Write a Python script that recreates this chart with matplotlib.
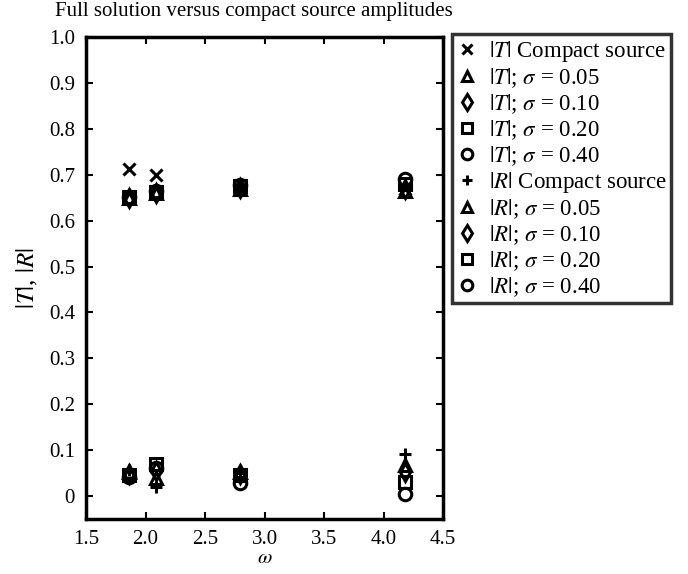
import numpy as np
import matplotlib
matplotlib.use("Agg")
import matplotlib.pyplot as plt

plt.rcParams['font.family'] = ['Liberation Serif', 'DejaVu Serif']
plt.rcParams['mathtext.fontset'] = 'stix'

# frequencies
omega = [1.86, 2.09, 2.79, 4.18]

# transmission |T|
T_compact = [0.712, 0.700, 0.670, 0.670]
T_s005 = [0.650, 0.660, 0.668, 0.664]
T_s010 = [0.650, 0.660, 0.672, 0.670]
T_s020 = [0.652, 0.662, 0.676, 0.680]
T_s040 = [0.652, 0.664, 0.678, 0.690]

# reflection |R|
R_compact = [0.057, 0.020, 0.050, 0.092]
R_s005 = [0.052, 0.040, 0.052, 0.068]
R_s010 = [0.048, 0.055, 0.048, 0.052]
R_s020 = [0.045, 0.070, 0.045, 0.030]
R_s040 = [0.042, 0.062, 0.028, 0.005]

series = [
    (T_compact, 'x', r'$|T|$ Compact source'),
    (T_s005, '^', r'$|T|$; $\sigma$ = 0.05'),
    (T_s010, 'd', r'$|T|$; $\sigma$ = 0.10'),
    (T_s020, 's', r'$|T|$; $\sigma$ = 0.20'),
    (T_s040, 'o', r'$|T|$; $\sigma$ = 0.40'),
    (R_compact, '+', r'$|R|$ Compact source'),
    (R_s005, '^', r'$|R|$; $\sigma$ = 0.05'),
    (R_s010, 'd', r'$|R|$; $\sigma$ = 0.10'),
    (R_s020, 's', r'$|R|$; $\sigma$ = 0.20'),
    (R_s040, 'o', r'$|R|$; $\sigma$ = 0.40'),
]

fig = plt.figure(figsize=(6.88, 5.74), dpi=100)
ax = fig.add_axes([0.125, 0.0958, 0.519, 0.8397])

for vals, m, lab in series:
    ms = 8 if m in 'x+' else 9
    ax.plot(omega, vals, linestyle='none', marker=m, ms=ms, mfc='none',
            mec='k', mew=2.2, label=lab)

ax.set_xlim(1.5, 4.5)
ax.set_ylim(-0.05, 1.0)
ax.set_xticks(np.arange(1.5, 4.51, 0.5))
ax.set_xticklabels(['1.5', '2.0', '2.5', '3.0', '3.5', '4.0', '4.5'])
ax.set_yticks(np.arange(0, 1.01, 0.1))
ax.set_yticklabels(['0'] + ['%.1f' % v for v in np.arange(0.1, 1.01, 0.1)])
ax.tick_params(direction='in', top=True, right=True, length=5, width=1.5,
               labelsize=15, pad=8)
for s in ax.spines.values():
    s.set_linewidth(2.5)

ax.set_xlabel(r'$\omega$', fontsize=15, labelpad=0)
ax.set_ylabel(r'$|T|$, $|R|$', fontsize=18, labelpad=6)
ax.set_title('Full solution versus compact source amplitudes', fontsize=15,
             x=0.47, pad=15)

leg = ax.legend(loc='upper left', bbox_to_anchor=(1.025, 1.006), fontsize=16.5,
                frameon=True, fancybox=False, edgecolor='k', handlelength=0.9,
                handletextpad=0.5, borderpad=0.2, labelspacing=0.1,
                borderaxespad=0, markerscale=0.85)
leg.get_frame().set_linewidth(2.5)

fig.savefig('out.png', dpi=100)
